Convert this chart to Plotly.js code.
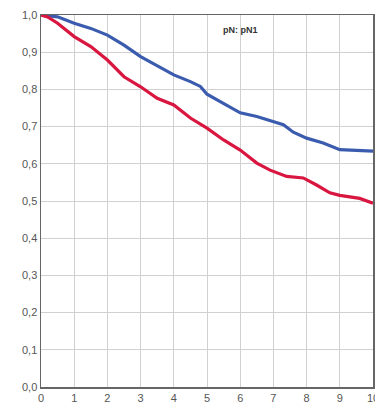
<!DOCTYPE html>
<html>
<head>
<meta charset="utf-8">
<script src="https://cdn.plot.ly/plotly-3.0.1.min.js"></script>
<style>html,body{margin:0;padding:0;background:#fff;}#chart{width:375px;height:404px;}</style>
</head>
<body>
<div id="chart"></div>
<script>
const blueTime = [0,0.3,0.5,1,1.5,2,2.5,3,3.5,4,4.5,4.8,5,5.5,6,6.5,7,7.3,7.6,8,8.5,9,9.5,10];
const blueSurv = [1,0.998,0.995,0.978,0.964,0.946,0.919,0.888,0.863,0.839,0.821,0.808,0.787,0.763,0.737,0.727,0.712,0.705,0.685,0.669,0.656,0.638,0.636,0.634];
const redTime = [0,0.2,0.5,1,1.5,2,2.5,3,3.5,4,4.5,5,5.5,6,6.5,6.9,7.4,7.9,8.3,8.7,9,9.6,10];
const redSurv = [1,0.995,0.978,0.942,0.915,0.879,0.834,0.807,0.776,0.758,0.723,0.696,0.664,0.637,0.602,0.583,0.566,0.562,0.543,0.522,0.515,0.507,0.494];
const xTicks = [0,1,2,3,4,5,6,7,8,9,10];
const yTicks = [0,0.1,0.2,0.3,0.4,0.5,0.6,0.7,0.8,0.9,1.0];
const yTickText = ['0,0','0,1','0,2','0,3','0,4','0,5','0,6','0,7','0,8','0,9','1,0'];
const annotationText = 'pN: pN1';

const traces = [
  {x: blueTime, y: blueSurv, type: 'scatter', mode: 'lines', line: {color: '#3b5cae', width: 3.2}, hoverinfo: 'skip', cliponaxis: false},
  {x: redTime, y: redSurv, type: 'scatter', mode: 'lines', line: {color: '#d9163f', width: 3.2}, hoverinfo: 'skip', cliponaxis: false}
];
const layout = {
  width: 375, height: 404,
  margin: {l: 41, r: 2, t: 15, b: 17, pad: 0},
  paper_bgcolor: '#fff', plot_bgcolor: '#fff',
  showlegend: false,
  font: {family: 'Liberation Sans, Arial, sans-serif', size: 11, color: '#555'},
  xaxis: {range: [0, 10], tickvals: xTicks, ticktext: xTicks.map(String), showgrid: true, gridcolor: '#d0d0d0', gridwidth: 1,
    zeroline: false, showline: true, linecolor: '#666', linewidth: 1.5, mirror: true, ticks: '', ticklen: 0,
    ticklabeloverflow: 'allow', tickfont: {size: 11, color: '#555'}, fixedrange: true},
  yaxis: {range: [0, 1], tickvals: yTicks, ticktext: yTickText, showgrid: true, gridcolor: '#d0d0d0', gridwidth: 1,
    zeroline: false, showline: true, linecolor: '#666', linewidth: 1.5, mirror: true, ticks: '', ticklen: 0,
    ticklabeloverflow: 'allow', tickfont: {size: 11, color: '#555'}, fixedrange: true},
  annotations: [{text: '<b>' + annotationText + '</b>', xref: 'paper', yref: 'paper', x: 0.602, y: 0.96,
    showarrow: false, font: {size: 9, color: '#333'}, xanchor: 'center', yanchor: 'middle'}]
};
Plotly.newPlot('chart', traces, layout, {displayModeBar: false, staticPlot: true});
</script>
</body>
</html>
